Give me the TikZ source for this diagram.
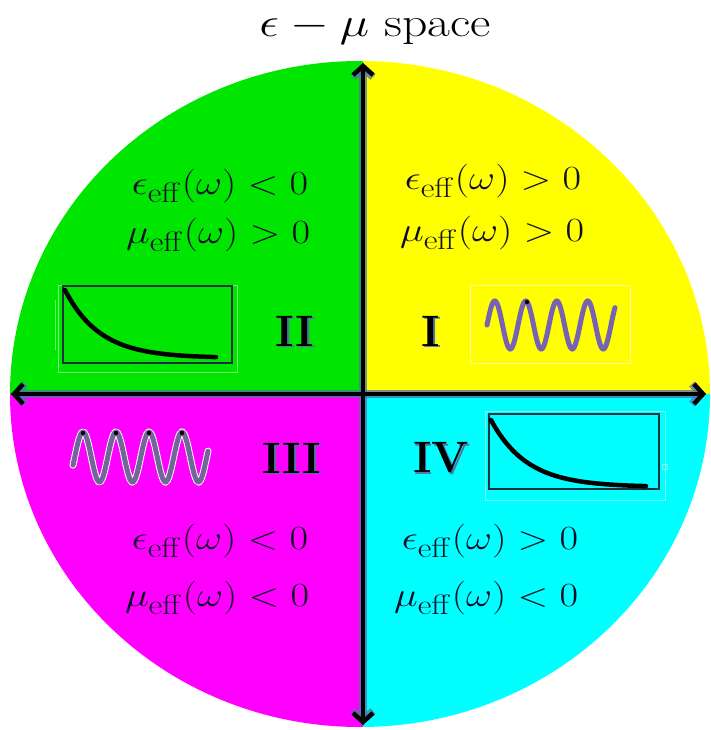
\documentclass[tikz,border=0pt]{standalone}
\usepackage{graphicx}
\usetikzlibrary{arrows.meta}
\definecolor{qgreen}{RGB}{0,230,0}
\definecolor{qyellow}{RGB}{255,255,0}
\definecolor{qmagenta}{RGB}{255,0,255}
\definecolor{qcyan}{RGB}{0,255,255}
\definecolor{glow}{RGB}{80,115,170}
\definecolor{inkc}{RGB}{15,15,40}
\definecolor{wavea}{RGB}{120,98,180}
\definecolor{waveb}{RGB}{112,104,150}
\definecolor{boxdark}{RGB}{30,50,60}
\definecolor{paleyellow}{RGB}{250,250,150}
\tikzset{
  axisglow/.style={draw=glow, line width=7.5pt, opacity=0.75, line cap=round,
    {Straight Barb[length=9pt,width=20pt]}-{Straight Barb[length=9pt,width=20pt]}},
  axisline/.style={draw=black, line width=4.5pt, line cap=round,
    {Straight Barb[length=9pt,width=20pt]}-{Straight Barb[length=9pt,width=20pt]}},
  eqtext/.style={text=inkc, inner sep=0pt, font=\fontsize{24.88}{30}\selectfont},
  roman/.style={inner sep=0pt, font=\fontsize{44}{48}\selectfont\bfseries},
  romanshadow/.style={roman, text=glow, xshift=1.5pt, yshift=-1.5pt},
  decay/.style={draw=black, line width=4.5pt, line cap=round},
  innerbox/.style={draw=boxdark, line width=1.6pt},
  outerbox/.style={draw=white, opacity=0.45, line width=1pt},
}
\newcommand{\eqline}[1]{\scalebox{1.62}[1.36]{$#1$}}
\begin{document}
\begin{tikzpicture}[x=1pt,y=-1pt]
\useasboundingbox (0,0) rectangle (710,730);
\fill[white] (0,0) rectangle (710,730);
% quadrants
\begin{scope}
\clip (360,394) ellipse [x radius=350, y radius=333];
\fill[qgreen] (0,0) rectangle (363,394);
\fill[qyellow] (363,0) rectangle (710,394);
\fill[qmagenta] (0,394) rectangle (363,730);
\fill[qcyan] (363,394) rectangle (710,730);
\end{scope}
% title
\node[anchor=base, inner sep=0pt, font=\fontsize{24.88}{30}\selectfont] (title) at (375,37)
  {\scalebox{2.0}[1.65]{$\epsilon-\mu$ space}};
% axes
\coordinate (top) at (363,63);
\coordinate (bot) at (363,725);
\coordinate (lft) at (11,394);
\coordinate (rgt) at (706,394);
\draw[axisglow] (bot) -- (top);
\draw[axisglow] (lft) -- (rgt);
\draw[axisline] (bot) -- (top);
\draw[axisline] (lft) -- (rgt);
% equations
\node[eqtext] (q2a) at (220,186) {\eqline{\epsilon_{\mathrm{eff}}(\omega)<0}};
\node[eqtext] (q2b) at (218,235) {\eqline{\mu_{\mathrm{eff}}(\omega)>0}};
\node[eqtext] (q1a) at (493,181) {\eqline{\epsilon_{\mathrm{eff}}(\omega)>0}};
\node[eqtext] (q1b) at (492,233) {\eqline{\mu_{\mathrm{eff}}(\omega)>0}};
\node[eqtext] (q3a) at (220,541) {\eqline{\epsilon_{\mathrm{eff}}(\omega)<0}};
\node[eqtext] (q3b) at (217,598) {\eqline{\mu_{\mathrm{eff}}(\omega)<0}};
\node[eqtext] (q4a) at (490,541) {\eqline{\epsilon_{\mathrm{eff}}(\omega)>0}};
\node[eqtext] (q4b) at (486,598) {\eqline{\mu_{\mathrm{eff}}(\omega)<0}};
% roman numerals
\node[romanshadow] (sII) at (295,331) {II};
\node[roman] (rII) at (295,331) {II};
\node[romanshadow] (sI) at (431,331) {I};
\node[roman] (rI) at (431,331) {I};
\node[romanshadow] (sIII) at (292,458) {III};
\node[roman] (rIII) at (292,458) {III};
\node[romanshadow] (sIV) at (441,458) {IV};
\node[roman] (rIV) at (441,458) {IV};
% Q2 decay box
\draw[outerbox] (58,285) rectangle (237,372);
\draw[outerbox] (55,300) -- (55,350);
\draw[innerbox] (63,286) rectangle (232,363);
\draw[decay] plot[domain=0:151, samples=80, smooth] ({65+\x},{358-68*exp(-\x/35)});
% Q4 decay box
\draw[outerbox] (485,411) rectangle (665,500);
\draw[outerbox] (662,464) rectangle (667,469);
\draw[innerbox] (489,414) rectangle (659,489);
\draw[decay] plot[domain=0:155, samples=80, smooth] ({491+\x},{487-67*exp(-\x/36)});
% Q1 wave
\draw[draw=paleyellow, line width=1pt] (470,285) rectangle (630,363);
\draw[draw=wavea, line width=5pt, line cap=round] plot[domain=0:128, samples=160, smooth] ({487+\x},{325-24*sin(\x/31*360)});
\fill[black] (527,302) circle (2.2);
% Q3 wave
\draw[draw=white, line width=7pt, dash pattern=on 1.5pt off 1.5pt, line cap=round] plot[domain=0:135, samples=160, smooth] ({73+\x},{457-25*sin((\x-1.75)/33*360)});
\draw[draw=waveb, line width=5pt, line cap=round] plot[domain=0:135, samples=160, smooth] ({73+\x},{457-25*sin((\x-1.75)/33*360)});
\foreach \px in {83,116,149,182} \fill[black] (\px,433) circle (2.2);
\end{tikzpicture}
\end{document}
